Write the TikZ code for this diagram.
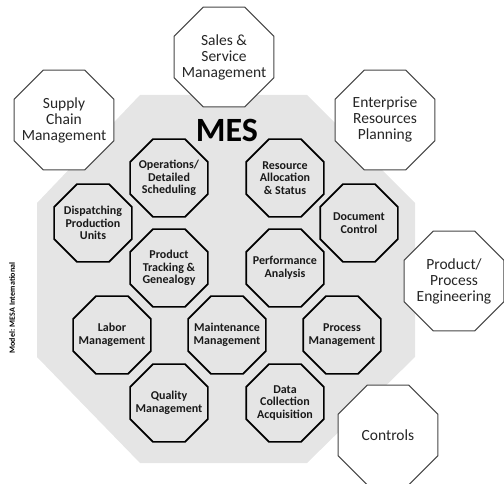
\documentclass[tikz,border=0pt]{standalone}
\usepackage{fontspec}
\setmainfont{Carlito}
\usetikzlibrary{shapes.geometric}
\definecolor{mesgray}{RGB}{229,229,229}
\definecolor{rimgray}{RGB}{70,70,70}
\begin{document}
\begin{tikzpicture}[x=1pt,y=-1pt,
        inoct/.style={regular polygon,regular polygon sides=8,minimum size=84pt,inner sep=0pt,
            draw=black,line width=1.6pt,fill=mesgray},
        outoct/.style={regular polygon,regular polygon sides=8,minimum size=108pt,inner sep=0pt,
            draw=rimgray,line width=1.1pt,fill=white},
        intext/.style={align=center,font=\fontsize{12}{12.5}\selectfont\bfseries,text=black!90},
        outtext/.style={align=center,font=\fontsize{15.5}{16}\selectfont,text=black!85}]
    \useasboundingbox (0,0) rectangle (504,484);
    %% MES area
    \fill[mesgray] (140,95) -- (307,95) -- (415,203) -- (415,357) -- (307,463)
        -- (140,463) -- (37,357) -- (37,203) -- cycle;
    \node[font=\fontsize{34}{34}\selectfont\bfseries] (mes) at (227,130) {MES};
    %% inner functions
    \node[inoct,label={[intext]center:Operations/\\Detailed\\Scheduling}] (ops) at (169,178) {};
    \node[inoct,label={[intext]center:Resource\\Allocation\\\& Status}] (res) at (285,178) {};
    \node[inoct,label={[intext]center:Dispatching\\Production\\Units}] (disp) at (93,223) {};
    \node[inoct,label={[intext]center:Document\\Control}] (doc) at (359,223) {};
    \node[inoct,label={[intext]center:Product\\Tracking \&\\Genealogy}] (track) at (169,268) {};
    \node[inoct,label={[intext]center:Performance\\Analysis}] (perf) at (285,268) {};
    \node[inoct,label={[intext]center:Labor\\Management}] (labor) at (112,335) {};
    \node[inoct,label={[intext]center:Maintenance\\Management}] (maint) at (227,335) {};
    \node[inoct,label={[intext]center:Process\\Management}] (proc) at (342,335) {};
    \node[inoct,label={[intext]center:Quality\\Management}] (qual) at (169,403) {};
    \node[inoct,label={[intext]center:Data\\Collection\\Acquisition}] (data) at (285,403) {};
    %% outer systems
    \node[outoct,label={[outtext]center:Sales \&\\Service\\Management}] (sales) at (224,57) {};
    \node[outoct,label={[outtext]center:Supply\\Chain\\Management}] (supply) at (64,120) {};
    \node[outoct,label={[outtext]center:Enterprise\\Resources\\Planning}] (erp) at (385,120) {};
    \node[outoct,label={[outtext]center:Product/\\Process\\Engineering}] (eng) at (454,281) {};
    \node[outoct,label={[outtext]center:Controls}] (ctrl) at (388,435) {};
    %% source note
    \node[rotate=90,font=\fontsize{8}{8}\selectfont\bfseries] (src) at (12,308) {Model: MESA International};
\end{tikzpicture}
\end{document}
